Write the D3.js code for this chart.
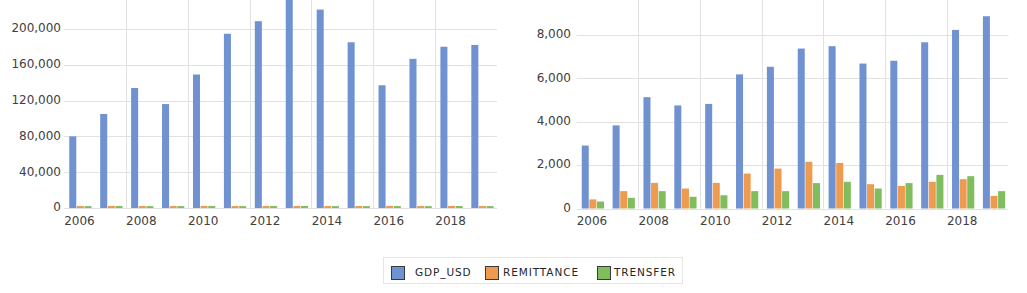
<!DOCTYPE html>
<html lang="en">
	<head>
		<meta charset="utf-8">
		<title>GDP, remittance and transfer</title>
		<script type="text/javascript" src="https://cdn.jsdelivr.net/npm/d3@7"></script>
		<style type="text/css">

body {
  margin: 0;
  background: #fff;
}

.tick_label {
    font-family: "DejaVu Sans", sans-serif;
    font-size: 12px;
    fill: #404040;
}

.legend_labels {
    font-family: "DejaVu Sans", sans-serif;
    font-size: 10.5px;
    letter-spacing: 0.9px;
    fill: #262626;
}

		</style>
	</head>
	<body>
		<script type="text/javascript">

			var years = ["2006", "2007", "2008", "2009", "2010", "2011", "2012",
			             "2013", "2014", "2015", "2016", "2017", "2018", "2019"];
			var yearLabels = ["2006", "2008", "2010", "2012", "2014", "2016", "2018"];
			var seriesNames = ["GDP_USD", "REMITTANCE", "TRENSFER"];

			// left chart
			var leftGdp = [80000, 105000, 134000, 116000, 149000, 194500, 208500,
			               233000, 221500, 185000, 137000, 166500, 180000, 182000];
			var leftRemittance = [2200, 2300, 2200, 2200, 2300, 2200, 2300,
			                      2300, 2200, 2200, 2300, 2200, 2300, 2200];
			var leftTransfer = [2100, 2200, 2100, 2100, 2200, 2100, 2200,
			                    2200, 2100, 2100, 2200, 2100, 2200, 2100];
			var leftTicks = [0, 40000, 80000, 120000, 160000, 200000];

			// right chart
			var rightGdp = [2900, 3830, 5130, 4750, 4820, 6180, 6530,
			                7370, 7480, 6680, 6810, 7660, 8230, 8860];
			var rightRemittance = [420, 800, 1180, 920, 1180, 1610, 1840,
			                       2150, 2100, 1120, 1040, 1230, 1350, 580];
			var rightTransfer = [320, 490, 800, 540, 610, 800, 800,
			                     1170, 1230, 920, 1170, 1550, 1490, 800];
			var rightTicks = [0, 2000, 4000, 6000, 8000];

			var colors_codes = {
				"GDP_USD": "#7092d0",
				"REMITTANCE": "#ee9b4f",
				"TRENSFER": "#80bd5c"
			};

			var w = 1027, h = 293;

			var svg = d3.select("body")
						.append("svg")
							.attr("width", w)
							.attr("height", h);

			function makeRows(gdp, remit, transfer) {
				return years.map(function(y, i) {
					return {year: y, GDP_USD: gdp[i], REMITTANCE: remit[i], TRENSFER: transfer[i]};
				});
			}

			function drawChart(rows, ticks, yMax, box) {
				var g = svg.append("g");

				var xScale = d3.scaleBand()
					.domain(years)
					.range([box.left, box.right])
					.padding(0);

				var bw = xScale.bandwidth();

				var xInner = d3.scaleBand()
					.domain(seriesNames)
					.range([bw * 0.17, bw * 0.91])
					.padding(0);

				var yScale = d3.scaleLinear()
					.domain([0, yMax])
					.range([box.zero, box.top]);

				// horizontal gridlines
				g.selectAll(".hgrid")
					.data(ticks)
					.enter()
					.append("line")
					.attr("x1", box.left)
					.attr("x2", box.right)
					.attr("y1", function(d) { return Math.round(yScale(d)) + 0.5; })
					.attr("y2", function(d) { return Math.round(yScale(d)) + 0.5; })
					.style("stroke", "#e2e2e2")
					.style("stroke-width", 1);

				// vertical gridlines, every other year
				g.selectAll(".vgrid")
					.data(yearLabels.slice(1))
					.enter()
					.append("line")
					.attr("x1", function(d) { return Math.round(xScale(d)) + 0.5; })
					.attr("x2", function(d) { return Math.round(xScale(d)) + 0.5; })
					.attr("y1", 0)
					.attr("y2", box.zero)
					.style("stroke", "#e2e2e2")
					.style("stroke-width", 1);

				// bars
				var groups = g.selectAll(".year_group")
					.data(rows)
					.enter()
					.append("g")
					.attr("transform", function(d) { return "translate(" + xScale(d.year) + ",0)"; });

				groups.selectAll("rect")
					.data(function(d) {
						return seriesNames.map(function(k) { return {key: k, value: d[k]}; });
					})
					.enter()
					.append("rect")
					.attr("x", function(d) { return xInner(d.key); })
					.attr("width", xInner.bandwidth() - 0.6)
					.attr("y", function(d) { return yScale(d.value); })
					.attr("height", function(d) { return yScale(0) - yScale(d.value); })
					.style("fill", function(d) { return colors_codes[d.key]; });

				// y axis labels
				var yAxis = d3.axisLeft(yScale)
					.tickValues(ticks)
					.tickSize(0)
					.tickPadding(0)
					.tickFormat(d3.format(","));

				var ya = g.append("g")
					.attr("transform", "translate(" + box.labelRight + ",-1)")
					.call(yAxis);
				ya.select(".domain").remove();
				ya.selectAll("text")
					.attr("class", "tick_label")
					.attr("font-family", null)
					.attr("font-size", null);

				// x axis labels
				var xAxis = d3.axisBottom(xScale)
					.tickValues(yearLabels)
					.tickSize(0)
					.tickPadding(0);

				var xa = g.append("g")
					.attr("transform", "translate(0," + (box.zero + 8) + ")")
					.call(xAxis);
				xa.select(".domain").remove();
				xa.selectAll("text")
					.attr("class", "tick_label")
					.attr("font-family", null)
					.attr("font-size", null);
			}

			drawChart(makeRows(leftGdp, leftRemittance, leftTransfer), leftTicks, 240000,
				{left: 64, right: 497, zero: 208, top: -7, labelRight: 61});

			drawChart(makeRows(rightGdp, rightRemittance, rightTransfer), rightTicks, 10000,
				{left: 576.5, right: 1008.5, zero: 208.5, top: -8.5, labelRight: 571});

			// legend
			var legend_x = [391, 485, 597];
			var legend_text_x = [415, 503, 614];

			svg.append("rect")
				.attr("x", 383.5)
				.attr("y", 257.5)
				.attr("width", 299)
				.attr("height", 26)
				.style("fill", "#fff")
				.style("stroke", "#e6e6e6");

			svg.selectAll("legend_box")
				.data(seriesNames)
				.enter()
				.append("rect")
					.attr("x", function(d, i) { return legend_x[i] + 0.5; })
					.attr("y", 266.5)
					.attr("width", 13)
					.attr("height", 13)
					.style("fill", function(d) { return colors_codes[d]; })
					.style("stroke", "#3a3a3a")
					.style("stroke-width", 1);

			svg.selectAll("legend_labels")
				.data(seriesNames)
				.enter()
				.append("text")
					.attr("class", "legend_labels")
					.attr("x", function(d, i) { return legend_text_x[i]; })
					.attr("y", 273)
					.attr("dominant-baseline", "middle")
					.text(function(d) { return d; });

		</script>
	</body>
</html>
